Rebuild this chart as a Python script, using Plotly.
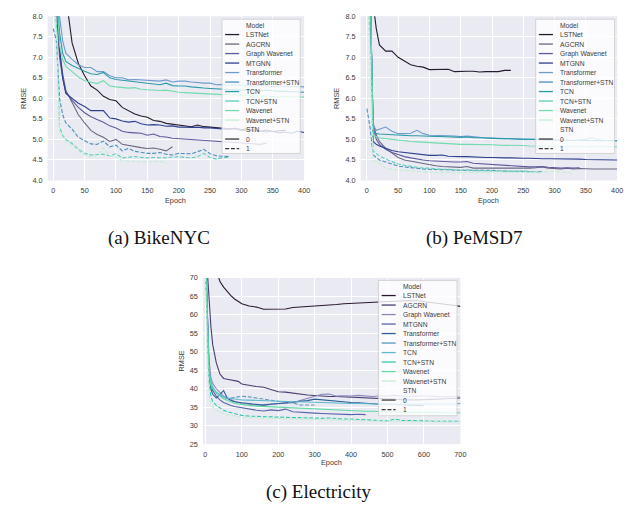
import plotly.graph_objects as go

W, H = 635, 508

MODELS = ["LSTNet", "AGCRN", "Graph Wavenet", "MTGNN", "Transformer",
          "Transformer+STN", "TCN", "TCN+STN", "Wavenet", "Wavenet+STN"]
STN_FLAG = [0, 0, 0, 0, 0, 1, 0, 1, 0, 1]

COLORS_AB = ["#231b2e", "#6b6880", "#5c5a9e", "#2e3f8f", "#6c9ccc",
             "#4a90bb", "#2a9ba8", "#5ccfb7", "#72dcae", "#c3eed3"]
COLORS_C = ["#2b1830", "#4b3e6e", "#8b88bb", "#5864a8", "#2c5e98",
            "#5a98bb", "#5cb8cb", "#35c7ad", "#5fd9a6", "#c4edd2"]

AB_EPOCHS = [0, 5, 10, 15, 20, 30, 40, 50, 60, 70, 80, 90, 100, 110, 120, 130, 140,
             150, 160, 170, 180, 190, 200, 210, 220, 230, 240, 250, 260, 270, 280,
             290, 300, 310, 320, 330, 340, 350, 360, 370, 380, 390, 400]
C_EPOCHS = [0, 5, 10, 15, 20, 30, 40, 50, 60, 70, 80, 90, 100, 120, 140, 160, 180,
            200, 220, 240, 260, 280, 300, 320, 340, 360, 380, 400, 420, 440, 460,
            480, 500, 520, 540, 560, 580, 600, 620, 640, 660, 680, 700]

# ---- (a) BikeNYC ----
A_LSTNET = [14.0, 12.5, 11.0, 9.6, 8.5, 7.35, 6.85, 6.55, 6.3, 6.2, 6.05, 5.97, 5.94, 5.78,
            5.7, 5.62, 5.57, 5.54, 5.46, 5.44, 5.39, 5.37, 5.36, 5.33, 5.31, 5.35, 5.31,
            5.3, 5.29, 5.28, 5.26, 5.27, 5.24, 5.25, 5.22, 5.2, 5.23, 5.19, 5.21, 5.22]
A_AGCRN = [9.5, 8.6, 7.2, 6.6, 6.2, 5.9, 5.6, 5.4, 5.22, 5.12, 5.05, 4.95, 5.0, 4.88,
           4.85, 4.83, 4.8, 4.78, 4.79, 4.76, 4.72, 4.82]
A_GWN = [9.0, 8.2, 7.0, 6.5, 6.15, 5.95, 5.78, 5.65, 5.55, 5.48, 5.42, 5.33, 5.28, 5.2,
         5.17, 5.16, 5.15, 5.1, 5.13, 5.07, 5.06, 5.03, 5.02, 5.0, 4.99, 4.98, 4.97,
         4.96, 4.95, 4.94, 4.93, 4.93, 4.92, 4.9, 4.9, 4.88, 4.91]
A_MTGNN = [9.2, 8.4, 7.2, 6.5, 6.12, 6.0, 5.88, 5.8, 5.7, 5.7, 5.7, 5.52, 5.5, 5.45,
           5.42, 5.44, 5.38, 5.35, 5.36, 5.35, 5.32, 5.33, 5.3, 5.3, 5.29, 5.3, 5.28,
           5.28, 5.27, 5.25, 5.24, 5.26, 5.22, 5.23, 5.2, 5.21, 5.18, 5.2, 5.16, 5.18,
           5.15, 5.2, 5.17]
A_TRANS = [10.0, 9.0, 8.0, 7.4, 7.1, 6.95, 6.82, 6.75, 6.75, 6.65, 6.65, 6.55, 6.5, 6.5,
           6.45, 6.46, 6.45, 6.45, 6.43, 6.42, 6.45, 6.4, 6.42, 6.42, 6.4, 6.38, 6.37,
           6.37, 6.33, 6.34, 6.32, 6.33, 6.32, 6.31, 6.3, 6.32, 6.3, 6.29, 6.3, 6.29,
           6.28, 6.29, 6.28]
A_TRANS_STN = [7.7, 7.4, 6.0, 5.6, 5.4, 5.25, 5.05, 4.96, 4.89, 4.88, 4.96, 4.82, 4.86,
               4.72, 4.78, 4.71, 4.68, 4.66, 4.66, 4.68, 4.64, 4.62, 4.66, 4.65, 4.65,
               4.7, 4.76, 4.65, 4.6, 4.59, 4.58]
A_TCN = [10.0, 8.8, 7.6, 7.1, 6.9, 6.8, 6.72, 6.66, 6.6, 6.58, 6.63, 6.5, 6.46, 6.44,
         6.42, 6.4, 6.38, 6.36, 6.35, 6.33, 6.37, 6.31, 6.3, 6.3, 6.28, 6.26, 6.25, 6.24,
         6.23, 6.22, 6.22, 6.21, 6.2, 6.2, 6.19, 6.18, 6.2, 6.18, 6.17, 6.17, 6.16,
         6.16, 6.15]
A_TCN_STN = [8.5, 7.8, 5.3, 5.1, 5.0, 4.9, 4.76, 4.66, 4.62, 4.63, 4.64, 4.6, 4.65, 4.55,
             4.57, 4.58, 4.56, 4.55, 4.56, 4.55, 4.55, 4.57, 4.58, 4.56, 4.55, 4.58,
             4.66, 4.56, 4.52, 4.56, 4.55]
A_WAVENET = [9.8, 8.6, 7.3, 6.95, 6.78, 6.65, 6.52, 6.43, 6.4, 6.36, 6.43, 6.3, 6.28,
             6.27, 6.25, 6.26, 6.22, 6.21, 6.2, 6.19, 6.2, 6.17, 6.15, 6.14, 6.13, 6.12,
             6.11, 6.1, 6.1, 6.09, 6.09, 6.08, 6.08, 6.07, 6.06, 6.06, 6.05, 6.05, 6.04,
             6.04, 6.03, 6.04, 6.03]
A_WAVENET_STN = [8.2, 7.6, 5.2, 5.05, 4.96, 4.86, 4.72, 4.62, 4.57, 4.6, 4.8, 4.6, 4.57,
                 4.48, 4.47, 4.46, 4.46, 4.45, 4.46, 4.47, 4.42]

# ---- (b) PeMSD7 ----
B_LSTNET = [15.0, 11.0, 8.3, 7.7, 7.3, 7.15, 7.15, 7.0, 6.9, 6.82, 6.78, 6.76, 6.7, 6.7,
            6.7, 6.71, 6.65, 6.66, 6.66, 6.66, 6.64, 6.65, 6.65, 6.65, 6.68, 6.68]
B_AGCRN = [12.0, 9.0, 5.4, 5.1, 4.95, 4.78, 4.66, 4.56, 4.5, 4.47, 4.44, 4.41, 4.38,
           4.36, 4.34, 4.33, 4.32, 4.32, 4.34, 4.3, 4.3, 4.3, 4.29, 4.3, 4.29, 4.29,
           4.29, 4.3, 4.3, 4.31, 4.33, 4.3, 4.29, 4.28, 4.3, 4.28, 4.29, 4.28, 4.28,
           4.28, 4.28, 4.28, 4.28]
B_GWN = [12.0, 9.0, 5.3, 5.0, 4.88, 4.76, 4.68, 4.63, 4.58, 4.55, 4.52, 4.5, 4.48, 4.47,
         4.46, 4.45, 4.45, 4.45, 4.46, 4.42, 4.41, 4.4, 4.38, 4.37, 4.36, 4.35, 4.34,
         4.34, 4.33, 4.33, 4.34, 4.32, 4.31, 4.3, 4.31, 4.3, 4.31]
B_MTGNN = [12.0, 9.0, 4.95, 4.88, 4.84, 4.78, 4.73, 4.7, 4.68, 4.66, 4.64, 4.63, 4.61,
           4.61, 4.62, 4.59, 4.58, 4.58, 4.58, 4.57, 4.57, 4.56, 4.56, 4.55, 4.55, 4.55,
           4.54, 4.54, 4.54, 4.53, 4.53, 4.53, 4.53, 4.52, 4.52, 4.52, 4.52, 4.51, 4.51,
           4.51, 4.51, 4.5, 4.5]
B_TRANS = [12.0, 9.0, 5.35, 5.22, 5.25, 5.3, 5.2, 5.14, 5.14, 5.15, 5.22, 5.14, 5.1,
           5.1, 5.1, 5.09, 5.08, 5.07, 5.08, 5.06, 5.05, 5.04, 5.03, 5.03, 5.02, 5.02,
           5.01, 5.0, 5.0, 5.0, 4.99, 4.99, 4.98, 4.99, 4.98, 4.98, 4.99, 5.0, 5.04,
           4.99, 4.98, 4.98, 4.97]
B_TRANS_STN = [5.75, 5.3, 4.62, 4.55, 4.5, 4.45, 4.4, 4.35, 4.33, 4.31, 4.3, 4.28, 4.27,
               4.27, 4.26, 4.26, 4.25, 4.25, 4.25, 4.24, 4.24, 4.24, 4.25, 4.23, 4.23,
               4.22, 4.23, 4.22, 4.21, 4.2, 4.22]
B_TCN = [12.0, 9.0, 5.2, 5.14, 5.13, 5.12, 5.11, 5.1, 5.1, 5.09, 5.09, 5.08, 5.08, 5.07,
         5.07, 5.06, 5.06, 5.05, 5.06, 5.04, 5.04, 5.03, 5.03, 5.02, 5.02, 5.01, 5.01,
         5.0, 5.0, 5.0, 4.99, 4.99, 4.99, 4.98, 4.98, 4.98, 4.98, 4.97, 4.97, 4.97,
         4.97, 4.97, 4.97]
B_TCN_STN = [9.0, 7.5, 4.72, 4.65, 4.6, 4.52, 4.45, 4.4, 4.37, 4.34, 4.32, 4.3, 4.3,
             4.28, 4.28, 4.27, 4.26, 4.25, 4.26, 4.24, 4.24, 4.23, 4.23, 4.23, 4.22,
             4.22, 4.22, 4.23, 4.22, 4.2, 4.22]
B_WAVENET = [12.0, 9.0, 5.1, 5.06, 5.04, 5.02, 5.0, 4.99, 4.97, 4.95, 4.94, 4.93, 4.92,
             4.91, 4.9, 4.89, 4.89, 4.88, 4.88, 4.88, 4.87, 4.87, 4.87, 4.86, 4.86,
             4.85, 4.85, 4.85, 4.84, 4.84, 4.84, 4.83, 4.83, 4.83, 4.83, 4.82, 4.82,
             4.82, 4.83, 4.82, 4.82, 4.82, 4.82]
B_WAVENET_STN = [9.0, 7.0, 4.48, 4.46, 4.42, 4.3, 4.27, 4.25, 4.24, 4.23, 4.22, 4.21,
                 4.2, 4.2, 4.19, 4.2, 4.18, 4.19, 4.2, 4.19, 4.2, 4.2, 4.2, 4.21, 4.2,
                 4.2, 4.2, 4.21, 4.2, 4.19, 4.2, 4.21, 4.22, 4.21, 4.2, 4.18]

# ---- (c) Electricity ----
C_LSTNET = [95, 90, 85, 80, 76, 72, 69, 67.5, 66.3, 65.2, 64.3, 63.6, 63.0, 62.4, 62.1,
            61.5, 61.6, 61.5, 61.6, 62.0, 62.1, 62.3, 62.5, 62.6, 62.7, 62.8, 63.0, 63.1,
            63.3, 63.4, 63.5, 63.6, 63.8, 63.9, 63.9, 63.9, 63.8, 63.6, 63.4, 63.1, 62.9,
            62.6, 62.3]
C_AGCRN = [80, 72, 63, 57, 52, 47, 44, 42.8, 42.6, 42.4, 42.2, 42.0, 41.3, 40.9, 40.6,
           40.4, 39.8, 39.2, 39.1, 38.8, 38.6, 38.3, 38.2, 38.0, 37.9, 37.9, 37.8, 37.8,
           37.6, 37.5, 37.4, 37.3, 37.3, 37.2, 37.1, 37.0, 37.0, 37.0, 37.1, 37.2, 37.3,
           37.4, 37.5]
C_GWN = [75, 62, 48, 43, 41.5, 40, 39, 38, 37.5, 37, 36.6, 36.3, 36.0, 35.8, 35.6, 35.7,
         35.8, 35.9, 36.0, 36.2, 36.8, 37.3, 37.8, 38.5, 38.6, 38.0, 38.1, 38.0, 38.2,
         38.0, 37.9, 38.1, 38.0, 38.2, 38.0, 37.9, 38.1, 38.0, 37.9, 38.0, 37.8, 37.9,
         37.7]
C_MTGNN = [75, 60, 45, 41, 39.5, 38, 37, 36.3, 35.8, 35.5, 35.2, 35.0, 34.8, 34.5, 34.2,
           34.0, 34.3, 34.1, 34.5, 33.8, 33.6, 33.5, 33.4, 33.3, 33.2, 33.3, 33.1, 33.0,
           33.1, 33.0]
C_TRANS = [80, 62, 44, 40, 38.5, 37.5, 38.5, 39.5, 37.5, 36.8, 36.5, 36.3, 36.2, 36.0,
           35.8, 35.5, 35.8, 36.0, 36.2, 36.4, 36.5, 36.8, 37.2, 37.0, 36.8, 36.5, 36.4,
           36.3, 36.2, 36.0, 35.9, 35.8, 35.8, 35.7, 35.6, 35.6, 35.5, 35.4]
C_TRANS_STN = [78, 60, 45, 41, 40, 39, 38.2, 37.6, 37.3, 37.5, 37.6, 37.8, 38.0, 37.8,
               37.5, 37.2, 36.8, 36.6, 36.5, 36.2, 35.6, 35.5, 35.6]
C_TCN = [78, 62, 46, 42, 40.5, 39, 38.3, 37.8, 37.5, 37.3, 37.2, 37.1, 37.0, 36.9, 36.8,
         36.8, 36.7, 36.6, 36.6, 36.5, 36.5, 36.4, 36.3, 36.4, 36.2, 36.1, 36.0, 36.0,
         36.0, 35.9, 35.9, 35.9, 35.8, 35.8, 35.8, 35.8, 35.8, 35.7, 35.7, 35.8, 35.8,
         35.9, 36.0]
C_TCN_STN = [72, 55, 42, 38, 36.5, 35.5, 34.8, 34.2, 33.8, 33.5, 33.2, 33.0, 32.8, 32.6,
             32.5, 32.4, 32.4, 32.3, 32.3, 32.2, 32.2, 32.1, 32.0, 32.0, 32.1, 31.9, 31.8,
             31.8, 31.7, 31.6, 31.5, 31.4, 31.3, 31.8, 31.4, 31.4, 31.3, 31.3, 31.3, 31.2,
             31.2, 31.2, 31.2]
C_WAVENET = [75, 58, 44, 41, 40, 38.8, 38, 37.3, 36.8, 36.4, 36.1, 35.9, 35.7, 35.5,
             35.3, 35.2, 35.1, 35.0, 34.9, 34.8, 34.7, 34.6, 34.5, 34.4, 34.3, 34.2, 34.1,
             34.0, 34.0, 33.9, 33.9, 33.8, 33.8, 33.7, 33.7, 33.6, 33.6, 33.6, 33.5, 33.5,
             33.5, 33.5, 33.5]
C_WAVENET_STN = [70, 50, 39, 36, 35, 34.2, 33.7, 33.3, 33.0, 32.8, 32.6, 32.4, 32.3,
                 32.2, 32.1, 32.0, 32.0, 31.9, 31.9, 31.8, 31.8, 31.7, 31.7, 31.6, 31.6,
                 31.5, 31.5, 31.4, 31.4, 31.3, 31.3, 31.3, 31.2, 31.2, 31.2, 31.1, 31.1,
                 31.1, 31.1, 31.0, 31.0, 31.0, 31.0]

A_SERIES = [A_LSTNET, A_AGCRN, A_GWN, A_MTGNN, A_TRANS, A_TRANS_STN, A_TCN, A_TCN_STN,
            A_WAVENET, A_WAVENET_STN]
B_SERIES = [B_LSTNET, B_AGCRN, B_GWN, B_MTGNN, B_TRANS, B_TRANS_STN, B_TCN, B_TCN_STN,
            B_WAVENET, B_WAVENET_STN]
C_SERIES = [C_LSTNET, C_AGCRN, C_GWN, C_MTGNN, C_TRANS, C_TRANS_STN, C_TCN, C_TCN_STN,
            C_WAVENET, C_WAVENET_STN]

SUBPLOTS = [
    (A_SERIES, AB_EPOCHS, COLORS_AB, "x", "y"),
    (B_SERIES, AB_EPOCHS, COLORS_AB, "x2", "y2"),
    (C_SERIES, C_EPOCHS, COLORS_C, "x3", "y3"),
]

FONT = "Liberation Sans, Arial, sans-serif"
TXT = "#3a3a3a"
DASH = "4px,1.8px"


def fx(p):
    return p / W


def fy(p):
    return 1 - p / H


fig = go.Figure()
for series, epochs, colors, xa, ya in SUBPLOTS:
    for name, vals, col, stn in zip(MODELS, series, colors, STN_FLAG):
        xs = epochs[:len(vals)]
        fig.add_trace(go.Scatter(
            x=xs, y=vals, mode="lines", name=name, xaxis=xa, yaxis=ya,
            line=dict(color=col, width=1.1, dash=DASH if stn else "solid"),
            showlegend=False, hoverinfo="skip"))

# plot-area boxes in pixels: (left, right, top, bottom)
BOX_A = (40, 299, 4.3, 171.5)
BOX_B = (356, 615, 4.3, 171.5)
BOX_C = (196.7, 456.7, 270.7, 440)


def axis_common(box, horizontal):
    l, r, t, b = box
    d = dict(showgrid=True, gridcolor="white", gridwidth=1, zeroline=False,
             showline=False, ticks="", tickfont=dict(family=FONT, size=7.3, color=TXT),
             ticklabelstandoff=4)
    if horizontal:
        d["domain"] = [fx(l), fx(r)]
    else:
        d["domain"] = [fy(b), fy(t)]
    return d


fig.update_layout(
    width=W, height=H, margin=dict(l=0, r=0, t=0, b=0),
    paper_bgcolor="white", plot_bgcolor="#EAEAF2", showlegend=False,
    xaxis=dict(axis_common(BOX_A, True), range=[-9, 400], tick0=0, dtick=50, anchor="y"),
    yaxis=dict(axis_common(BOX_A, False), range=[4, 8], tick0=4, dtick=0.5,
               tickformat=".1f", anchor="x"),
    xaxis2=dict(axis_common(BOX_B, True), range=[-10, 400], tick0=0, dtick=50, anchor="y2"),
    yaxis2=dict(axis_common(BOX_B, False), range=[4, 8], tick0=4, dtick=0.5,
                tickformat=".1f", anchor="x2"),
    xaxis3=dict(axis_common(BOX_C, True), range=[-7, 700], tick0=0, dtick=100, anchor="y3"),
    yaxis3=dict(axis_common(BOX_C, False), range=[25, 70], tick0=25, dtick=5, anchor="x3"),
)

shapes = []
annotations = []


def text(x, y, s, size=7.3, family=FONT, color=TXT, angle=0, xanchor="center"):
    annotations.append(dict(x=fx(x), y=fy(y), xref="paper", yref="paper", text=s,
                            showarrow=False, xanchor=xanchor, yanchor="middle",
                            textangle=angle, font=dict(family=family, size=size, color=color)))


# axis titles
for box, rmse_x, epoch_y in [(BOX_A, 15.7, 191.7), (BOX_B, 331.7, 191.7), (BOX_C, 175, 459)]:
    l, r, t, b = box
    text((l + r) / 2, epoch_y, "Epoch")
    text(rmse_x, (t + b) / 2, "RMSE", angle=-90)


# legends
def legend(left, right, top, bottom, first_row, colors):
    shapes.append(dict(type="rect", xref="paper", yref="paper",
                       x0=fx(left), x1=fx(right), y0=fy(bottom), y1=fy(top),
                       fillcolor="rgba(255,255,255,0.8)",
                       line=dict(color="#cccccc", width=0.8), layer="above"))
    step = 9.67
    rows = [("Model", None, None)]
    rows += [(m, c, "solid") for m, c in zip(MODELS, colors)]
    rows += [("STN", None, None), ("0", "#3a3a3a", "solid"), ("1", "#3a3a3a", DASH)]
    for i, (lab, col, dash) in enumerate(rows):
        y = first_row + i * step
        if col is not None:
            shapes.append(dict(type="line", xref="paper", yref="paper",
                               x0=fx(left + 3.2), x1=fx(left + 17.4), y0=fy(y), y1=fy(y),
                               line=dict(color=col, width=1.3, dash=dash), layer="above"))
        text(left + 22.6, y, lab, size=6.7, xanchor="left")


legend(216, 295, 7.3, 144, 13.3, COLORS_AB)
legend(532.7, 612.3, 7.3, 144, 13.3, COLORS_AB)
legend(374, 453.3, 273.3, 411, 279, COLORS_C)

# captions
CAP_FONT = "Liberation Serif, Times New Roman, serif"
text(152, 230, "(a) BikeNYC", size=19, family=CAP_FONT, color="#111111")
text(471, 230, "(b) PeMSD7", size=19, family=CAP_FONT, color="#111111")
text(313, 489, "(c) Electricity", size=19, family=CAP_FONT, color="#111111")

fig.update_layout(shapes=shapes, annotations=annotations)
fig.write_html("out.html")
